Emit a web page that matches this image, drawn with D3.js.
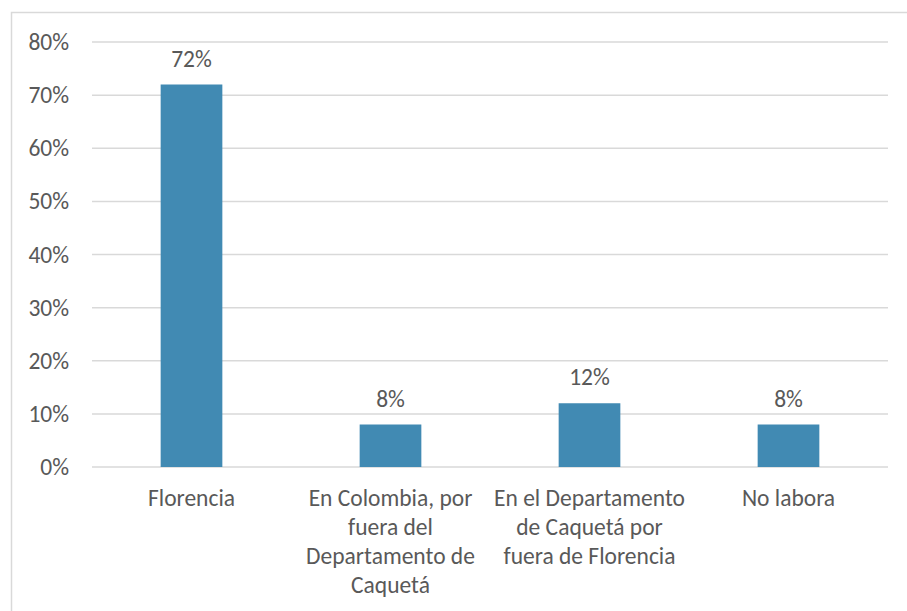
<!DOCTYPE html>
<html>
<head>
<meta charset="utf-8">
<script src="https://cdn.jsdelivr.net/npm/d3@7"></script>
<style>
  body { margin: 0; background: #fff; }
  text { font-family: Carlito, Calibri, Lato, sans-serif; fill: #595959; }
</style>
</head>
<body>
<svg width="907" height="611"></svg>
<script>
// chart data
const categories = ["Florencia", "En Colombia, por\nfuera del\nDepartamento de\nCaquetá", "En el Departamento\nde Caquetá por\nfuera de Florencia", "No labora"];
const values = [0.72, 0.08, 0.12, 0.08];
const yTicks = [0, 0.1, 0.2, 0.3, 0.4, 0.5, 0.6, 0.7, 0.8];

const fontSize = 23.5;

function drawChart() {
    const svg = d3.select("svg"),
        width = +svg.attr("width"),
        height = +svg.attr("height");

    const margin = {left: 92, right: 19, top: 42, bottom: 144};

    // outer frame (runs off the right and bottom edges)
    svg.append("rect")
        .attr("x", 11.5).attr("y", 12.5)
        .attr("width", width + 20).attr("height", height + 20)
        .attr("fill", "none")
        .attr("stroke", "#d9d9d9")
        .attr("stroke-width", 1.5);

    const x = d3.scaleBand()
        .domain(categories)
        .range([margin.left, width - margin.right])
        .paddingInner(0.69)
        .paddingOuter(0.345);

    const y = d3.scaleLinear()
        .domain([0, 0.8])
        .range([height - margin.bottom, margin.top]);

    // gridlines
    svg.append("g")
        .selectAll("line")
        .data(yTicks)
        .enter().append("line")
        .attr("x1", margin.left).attr("x2", width - margin.right)
        .attr("y1", d => y(d)).attr("y2", d => y(d))
        .attr("stroke", "#d9d9d9")
        .attr("stroke-width", 1.5);

    // y axis labels
    const yAxis = svg.append("g")
        .attr("transform", `translate(${margin.left},0)`)
        .call(d3.axisLeft(y).tickValues(yTicks).tickFormat(d3.format(".0%")).tickSize(0).tickPadding(23));
    yAxis.select(".domain").remove();
    yAxis.selectAll("text")
        .attr("font-size", fontSize)
        .style("font-family", "Carlito, Calibri, Lato, sans-serif")
        .attr("fill", "#595959");

    // bars
    svg.append("g")
        .selectAll("rect")
        .data(values)
        .enter().append("rect")
        .attr("x", (d, i) => x(categories[i]))
        .attr("y", d => y(d))
        .attr("width", x.bandwidth())
        .attr("height", d => y(0) - y(d))
        .attr("fill", "#418ab3");

    // value labels
    svg.append("g")
        .selectAll("text")
        .data(values)
        .enter().append("text")
        .attr("x", (d, i) => x(categories[i]) + x.bandwidth() / 2)
        .attr("y", d => y(d) - 18)
        .attr("text-anchor", "middle")
        .attr("font-size", fontSize)
        .text(d => d3.format(".0%")(d));

    // category labels, multi-line
    const catLabel = svg.append("g")
        .selectAll("text")
        .data(categories)
        .enter().append("text")
        .attr("text-anchor", "middle")
        .attr("font-size", fontSize)
        .attr("transform", d => `translate(${x(d) + x.bandwidth() / 2},${y(0) + 39})`);

    catLabel.selectAll("tspan")
        .data(d => d.split("\n"))
        .enter().append("tspan")
        .attr("x", 0)
        .attr("y", (d, i) => i * 29)
        .text(d => d);
}

document.addEventListener('DOMContentLoaded', function() {
    drawChart();
});
</script>
</body>
</html>
